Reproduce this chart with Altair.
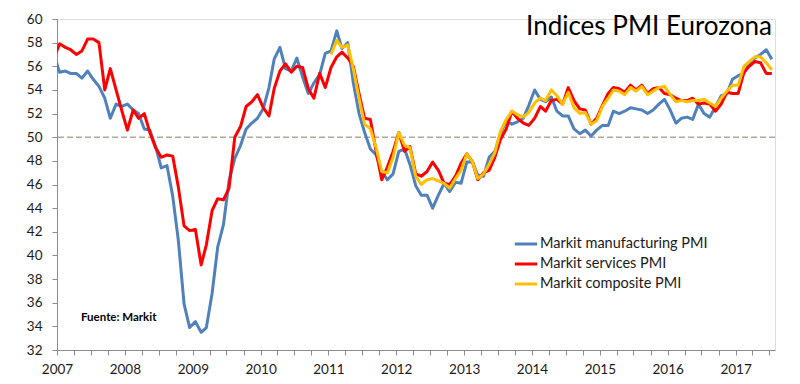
import altair as alt
import pandas as pd

# ---- data (monthly, Dec 2006 .. Jul 2017; Dec 2006 lies just left of the axis and is clipped)
first_month = "2006-12"
manufacturing = [
    57.0,
    55.5, 55.6, 55.4, 55.4, 55.0, 55.6, 54.9, 54.3, 53.3, 51.6, 52.8, 52.6,
    52.8, 52.3, 52.0, 50.7, 50.6, 49.2, 47.4, 47.6, 45.0, 41.3, 35.9, 33.9,
    34.4, 33.5, 33.9, 36.8, 40.7, 42.6, 46.3, 48.2, 49.3, 50.7, 51.2, 51.6,
    52.4, 54.2, 56.6, 57.6, 55.8, 55.6, 56.7, 55.1, 53.7, 54.6, 55.3, 57.1,
    57.3, 59.0, 57.5, 58.0, 54.6, 52.0, 50.4, 49.0, 48.5, 47.1, 46.4, 46.9,
    48.8, 49.0, 47.7, 45.9, 45.1, 45.1, 44.0, 45.1, 46.1, 45.4, 46.2, 46.1,
    47.9, 47.9, 46.8, 46.7, 48.3, 48.8, 50.3, 51.4, 51.1, 51.3, 51.6, 52.7,
    54.0, 53.2, 53.0, 53.4, 52.2, 51.8, 51.8, 50.7, 50.3, 50.6, 50.1, 50.6,
    51.0, 51.0, 52.2, 52.0, 52.2, 52.5, 52.4, 52.3, 52.0, 52.3, 52.8, 53.2,
    52.3, 51.2, 51.6, 51.7, 51.5, 52.8, 52.0, 51.7, 52.6, 53.5, 53.7, 54.9,
    55.2, 55.4, 56.2, 56.7, 57.0, 57.4, 56.6,
]
services = [
    56.7,
    57.9, 57.6, 57.4, 57.0, 57.3, 58.3, 58.3, 58.0, 54.0, 55.8, 54.0, 52.3,
    50.6, 52.3, 51.6, 52.0, 50.4, 49.1, 48.3, 48.5, 48.4, 45.8, 42.5, 42.1,
    42.2, 39.2, 40.9, 43.8, 44.8, 44.7, 45.7, 50.0, 50.9, 52.6, 53.0, 53.6,
    52.5, 51.8, 54.1, 55.6, 56.2, 55.5, 56.0, 55.9, 54.1, 53.3, 55.4, 54.2,
    55.9, 56.8, 57.2, 56.7, 56.0, 53.7, 51.6, 51.5, 48.8, 46.4, 47.5, 48.8,
    50.4, 48.8, 49.2, 46.9, 46.7, 47.1, 47.9, 47.2, 46.1, 46.0, 46.7, 47.8,
    48.6, 47.9, 46.4, 47.0, 47.2, 48.3, 49.8, 50.7, 52.2, 51.6, 51.2, 51.0,
    51.6, 52.6, 52.2, 53.1, 53.2, 52.8, 54.2, 53.1, 52.4, 52.3, 51.1, 51.6,
    52.7, 53.7, 54.2, 54.1, 53.8, 54.4, 54.0, 54.4, 53.7, 54.1, 54.2, 53.7,
    53.6, 53.3, 53.1, 53.1, 53.3, 52.8, 52.9, 52.8, 52.2, 52.8, 53.8, 53.7,
    53.7, 55.5, 56.0, 56.4, 56.3, 55.4, 55.4,
]
composite_first_month = "2011-01"
composite = [
    57.0, 58.2, 57.6, 57.8, 55.8, 53.3, 51.1, 50.7, 49.1, 47.1, 47.0, 48.3,
    50.4, 49.3, 49.1, 46.7, 46.0, 46.4, 46.5, 46.3, 46.1, 45.7, 46.5, 47.2,
    48.6, 47.9, 46.5, 46.9, 47.7, 48.7, 50.5, 51.5, 52.2, 51.9, 51.7, 52.1,
    52.9, 53.3, 53.1, 54.0, 53.5, 52.8, 53.8, 52.5, 52.0, 52.1, 51.1, 51.4,
    52.6, 53.3, 54.0, 53.9, 53.6, 54.2, 53.9, 54.3, 53.6, 53.9, 54.2, 54.3,
    53.6, 53.0, 53.1, 53.0, 53.1, 53.1, 53.2, 52.9, 52.6, 53.3, 53.9, 54.4,
    54.4, 56.0, 56.4, 56.8, 56.8, 56.3, 55.7,
]
series_names = ["Markit manufacturing PMI", "Markit services PMI", "Markit composite PMI"]
series_colors = ["#4F81BD", "#FF0000", "#FFC000"]
y_ticks = list(range(32, 61, 2))
threshold = [50]
title_text = ["Indices PMI Eurozona"]
source_text = ["Fuente: Markit"]


def month_dates(start, n):
    idx = pd.date_range(start + "-01", periods=n, freq="MS") + pd.Timedelta(days=14)
    return [d.strftime("%Y-%m-%dT00:00:00Z") for d in idx]


rows = []
for name, start, vals in [
    (series_names[0], first_month, manufacturing),
    (series_names[1], first_month, services),
    (series_names[2], composite_first_month, composite),
]:
    for d, v in zip(month_dates(start, len(vals)), vals):
        rows.append({"fecha": d, "serie": name, "valor": v})
df = pd.DataFrame(rows)

FONT = "Lato"
x_domain = [alt.DateTime(year=2007, month=1, date=1, utc=True),
            alt.DateTime(year=2017, month=8, date=1, utc=True)]
quarter_ticks = [alt.DateTime(year=y, month=m, date=1, utc=True)
                 for y in range(2007, 2018) for m in (1, 4, 7, 10)
                 if not (y == 2017 and m > 7)]

x_enc = alt.X(
    "fecha:T",
    scale=alt.Scale(type="utc", domain=x_domain),
    axis=alt.Axis(
        title=None, values=quarter_ticks,
        labelExpr="utcmonth(datum.value) == 0 ? utcFormat(datum.value, '%Y') : ''",
        grid=False, domainColor="#8c8c8c", tickColor="#8c8c8c", tickSize=5,
        labelPadding=7, labelFontSize=13.5, labelFont=FONT, labelColor="#1a1a1a",
        labelFlush=False, labelOverlap=False,
    ),
)
y_scale = alt.Scale(domain=[32, 60], nice=False, zero=False)
y_axis = alt.Axis(
    title=None, values=y_ticks, grid=False, domainColor="#8c8c8c",
    tickColor="#8c8c8c", tickSize=5, labelPadding=10, labelFontSize=13.5,
    labelFont=FONT, labelColor="#1a1a1a", labelOverlap=False, labelSeparation=0,
)

lines = alt.Chart(df).mark_line(strokeWidth=3, clip=True, strokeJoin="round").encode(
    x=x_enc,
    y=alt.Y("valor:Q", scale=y_scale, axis=y_axis),
    color=alt.Color(
        "serie:N",
        sort=series_names,
        scale=alt.Scale(domain=series_names, range=series_colors),
        legend=alt.Legend(
            title=None, orient="none", legendX=456, legendY=212,
            symbolType="stroke", symbolStrokeWidth=3, symbolSize=500,
            labelFontSize=14.5, labelFont=FONT, labelColor="#1a1a1a",
            rowPadding=0, labelOffset=1, symbolOffset=0, labelLimit=400,
        ),
    ),
    order=alt.Order("serie_idx:Q"),
).transform_calculate(
    serie_idx="indexof(['Markit manufacturing PMI','Markit services PMI','Markit composite PMI'], datum.serie)"
)

ref = alt.Chart(pd.DataFrame({"valor": threshold})).mark_rule(
    strokeDash=[6, 3], color="#b0a998", strokeWidth=1.5
).encode(y=alt.Y("valor:Q", scale=y_scale, axis=y_axis))

title = alt.Chart(pd.DataFrame({"t": title_text})).mark_text(
    align="right", baseline="middle", fontSize=26, font=FONT, color="#000000"
).encode(x=alt.value(715), y=alt.value(8), text="t:N")

source = alt.Chart(pd.DataFrame({"t": source_text})).mark_text(
    align="left", baseline="middle", fontSize=11.5, font=FONT, fontWeight="bold", color="#000000"
).encode(x=alt.value(24), y=alt.value(299), text="t:N")

chart = alt.layer(ref, lines, title, source).properties(
    width=718, height=331,
    padding={"left": 18, "top": 4, "right": 0, "bottom": 0},
).configure_view(stroke=None).configure(background="white")

chart.save("out.html", embed_options={"renderer": "svg", "actions": False})
